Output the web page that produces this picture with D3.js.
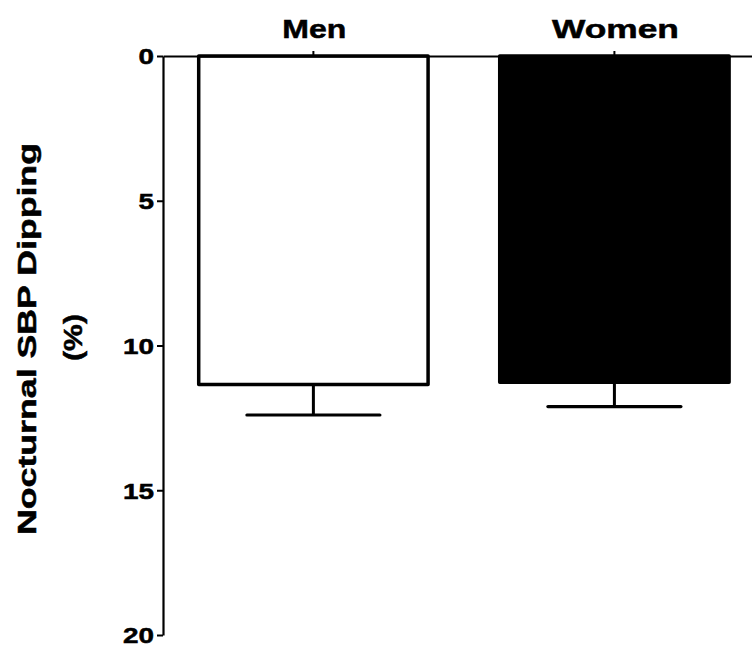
<!DOCTYPE html>
<html>
<head>
<meta charset="utf-8">
<script src="https://cdn.jsdelivr.net/npm/d3@7"></script>
<style>
  html, body { margin: 0; padding: 0; background: #fff; }
  svg { display: block; }
  text { font-family: "Liberation Sans", Arial, sans-serif; font-weight: bold; fill: #000; stroke: #000; stroke-width: 0.5px; }
</style>
</head>
<body>
<svg id="chart" width="752" height="656"></svg>
<script>
// ---- data ----
const categories = ["Men", "Women"];
const meanValues = [11.35, 11.27];
const errorValues = [1.05, 0.84];      // SEM (downward, since the axis is inverted)
const barFills = ["#ffffff", "#000000"];
const yTicks = [0, 5, 10, 15, 20];
const yLabelLines = ["Nocturnal SBP Dipping", "(%)"];

// ---- layout ----
const svg = d3.select("#chart");
const axisX = 163, axisTop = 56, axisBottom = 635;

const y = d3.scaleLinear().domain([0, 20]).range([axisTop, axisBottom]);
const x = d3.scaleBand().domain(categories)
  .range([axisX, 764.8]).paddingInner(0.238).paddingOuter(0.1186);

const data = categories.map((c, i) => ({ c, v: meanValues[i], e: errorValues[i], fill: barFills[i] }));

const g = svg.append("g");

// error bars
g.selectAll("line.stem").data(data).enter().append("line")
  .attr("x1", d => x(d.c) + x.bandwidth() / 2)
  .attr("x2", d => x(d.c) + x.bandwidth() / 2)
  .attr("y1", d => y(d.v))
  .attr("y2", d => y(d.v + d.e))
  .attr("stroke", "#000").attr("stroke-width", 3);
g.selectAll("line.cap").data(data).enter().append("line")
  .attr("x1", d => x(d.c) + x.bandwidth() / 2 - 66.5)
  .attr("x2", d => x(d.c) + x.bandwidth() / 2 + 66.5)
  .attr("y1", d => y(d.v + d.e))
  .attr("y2", d => y(d.v + d.e))
  .attr("stroke", "#000").attr("stroke-width", 3.2).attr("stroke-linecap", "round");

g.selectAll("rect.bar").data(data).enter().append("rect")
  .attr("x", d => x(d.c))
  .attr("y", y(0))
  .attr("width", x.bandwidth())
  .attr("height", d => y(d.v) - y(0))
  .attr("fill", d => d.fill)
  .attr("stroke", "#000").attr("stroke-width", 3.5).attr("stroke-linejoin", "round");

// y axis (left, inverted)
const yAxis = d3.axisLeft(y).tickValues(yTicks).tickSize(6).tickSizeOuter(0).tickPadding(3);
const ya = svg.append("g").attr("transform", `translate(${axisX},0)`).call(yAxis);
ya.select(".domain").attr("stroke", "#000").attr("stroke-width", 2.2);
ya.selectAll(".tick line").attr("stroke", "#000").attr("stroke-width", 2);
ya.selectAll(".tick text")
  .attr("font-size", 22).attr("dy", "0.36em")
  .attr("textLength", d => String(d).length * 15.5)
  .attr("lengthAdjust", "spacingAndGlyphs");

// top axis (categories)
const xAxis = d3.axisTop(x).tickSize(5).tickSizeOuter(0).tickFormat("");
const xa = svg.append("g").attr("transform", `translate(0,${axisTop})`).call(xAxis);
xa.select(".domain").attr("stroke", "#000").attr("stroke-width", 2.2);
xa.selectAll(".tick line").attr("stroke", "#000").attr("stroke-width", 2);

const catWidths = { "Men": 64, "Women": 127 };
svg.selectAll("text.cat").data(categories).enter().append("text")
  .attr("class", "cat")
  .attr("x", d => x(d) + x.bandwidth() / 2 + 1)
  .attr("y", 37.5)
  .attr("text-anchor", "middle")
  .attr("font-size", 26.5)
  .attr("textLength", d => catWidths[d])
  .attr("lengthAdjust", "spacingAndGlyphs")
  .text(d => d);

// y axis title (two lines, rotated)
const titlePos = [{ x: 36, y: 339, len: 392 }, { x: 82, y: 337.5, len: 47 }];
svg.selectAll("text.ytitle").data(yLabelLines).enter().append("text")
  .attr("class", "ytitle")
  .attr("transform", (d, i) => `translate(${titlePos[i].x},${titlePos[i].y}) rotate(-90)`)
  .attr("text-anchor", "middle")
  .attr("font-size", 25)
  .attr("textLength", (d, i) => titlePos[i].len)
  .attr("lengthAdjust", "spacingAndGlyphs")
  .text(d => d);
</script>
</body>
</html>
